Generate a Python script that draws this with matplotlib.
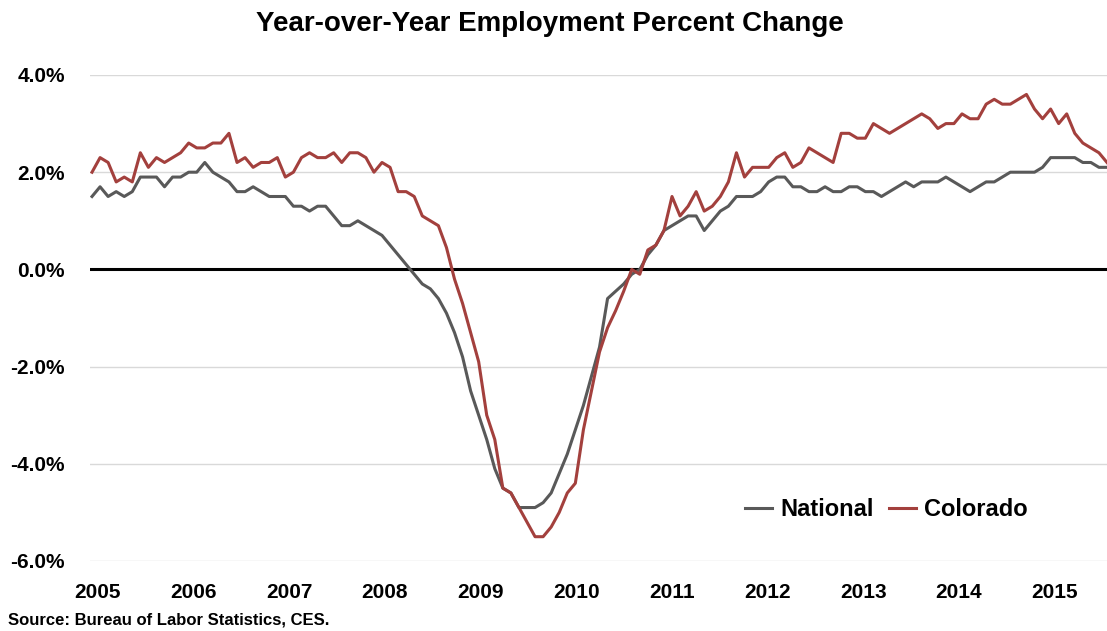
import matplotlib.pyplot as plt
import numpy as np

# Monthly year-over-year % change, Jan 2005 - Jul 2015
national = [
    1.5, 1.7, 1.5, 1.6, 1.5, 1.6, 1.9, 1.9, 1.9, 1.7, 1.9, 1.9,
    2.0, 2.0, 2.2, 2.0, 1.9, 1.8, 1.6, 1.6, 1.7, 1.6, 1.5, 1.5,
    1.5, 1.3, 1.3, 1.2, 1.3, 1.3, 1.1, 0.9, 0.9, 1.0, 0.9, 0.8,
    0.7, 0.5, 0.3, 0.1, -0.1, -0.3, -0.4, -0.6, -0.9, -1.3, -1.8, -2.5,
    -3.0, -3.5, -4.1, -4.5, -4.6, -4.9, -4.9, -4.9, -4.8, -4.6, -4.2, -3.8,
    -3.3, -2.8, -2.2, -1.6, -0.6, -0.45, -0.3, -0.1, 0.0, 0.3, 0.5, 0.8,
    0.9, 1.0, 1.1, 1.1, 0.8, 1.0, 1.2, 1.3, 1.5, 1.5, 1.5, 1.6,
    1.8, 1.9, 1.9, 1.7, 1.7, 1.6, 1.6, 1.7, 1.6, 1.6, 1.7, 1.7,
    1.6, 1.6, 1.5, 1.6, 1.7, 1.8, 1.7, 1.8, 1.8, 1.8, 1.9, 1.8,
    1.7, 1.6, 1.7, 1.8, 1.8, 1.9, 2.0, 2.0, 2.0, 2.0, 2.1, 2.3,
    2.3, 2.3, 2.3, 2.2, 2.2, 2.1, 2.1,
]
colorado = [
    2.0, 2.3, 2.2, 1.8, 1.9, 1.8, 2.4, 2.1, 2.3, 2.2, 2.3, 2.4,
    2.6, 2.5, 2.5, 2.6, 2.6, 2.8, 2.2, 2.3, 2.1, 2.2, 2.2, 2.3,
    1.9, 2.0, 2.3, 2.4, 2.3, 2.3, 2.4, 2.2, 2.4, 2.4, 2.3, 2.0,
    2.2, 2.1, 1.6, 1.6, 1.5, 1.1, 1.0, 0.9, 0.45, -0.2, -0.7, -1.3,
    -1.9, -3.0, -3.5, -4.5, -4.6, -4.9, -5.2, -5.5, -5.5, -5.3, -5.0, -4.6,
    -4.4, -3.3, -2.5, -1.7, -1.2, -0.85, -0.45, 0.0, -0.1, 0.4, 0.5, 0.8,
    1.5, 1.1, 1.3, 1.6, 1.2, 1.3, 1.5, 1.8, 2.4, 1.9, 2.1, 2.1,
    2.1, 2.3, 2.4, 2.1, 2.2, 2.5, 2.4, 2.3, 2.2, 2.8, 2.8, 2.7,
    2.7, 3.0, 2.9, 2.8, 2.9, 3.0, 3.1, 3.2, 3.1, 2.9, 3.0, 3.0,
    3.2, 3.1, 3.1, 3.4, 3.5, 3.4, 3.4, 3.5, 3.6, 3.3, 3.1, 3.3,
    3.0, 3.2, 2.8, 2.6, 2.5, 2.4, 2.2,
]
years = [str(y) for y in range(2005, 2016)]
yticks = [-6, -4, -2, 0, 2, 4]

months = np.arange(len(national))

fig = plt.figure(figsize=(11.07, 6.31), dpi=100)
ax = fig.add_axes([90 / 1107, 1 - 561 / 631, 1 - 90 / 1107, (561 - 75) / 631])

for v in yticks:
    if v == 0:
        ax.axhline(v, color='black', lw=2.2, zorder=1)
    else:
        ax.axhline(v, color='#d9d9d9', lw=1, zorder=1)

ax.plot(months, national, color='#595959', lw=2.2, label='National', zorder=3)
ax.plot(months, colorado, color='#a3403d', lw=2.2, label='Colorado', zorder=3)

ax.set_xlim(-0.25, len(national) - 1)
ax.set_ylim(-6, 4)
ax.set_yticks(yticks)
ax.set_yticklabels([f'{v:.1f}%' for v in yticks])
ax.set_xticks(0.7 + 11.88 * np.arange(len(years)))
ax.set_xticklabels(years)
ax.tick_params(length=0)
ax.tick_params(axis='y', pad=18)
ax.tick_params(axis='x', pad=16)
for lab in ax.get_xticklabels() + ax.get_yticklabels():
    lab.set_family('Liberation Sans')
    lab.set_fontweight('bold')
    lab.set_fontsize(15)
for s in ax.spines.values():
    s.set_visible(False)

leg = ax.legend(loc='center', bbox_to_anchor=(0.783, 0.105), ncol=2, frameon=False,
                borderpad=0, handlelength=1.15, handletextpad=0.35, columnspacing=0.65,
                prop={'family': 'Liberation Sans', 'weight': 'bold', 'size': 17})

fig.text(0.497, 1 - 24 / 631, 'Year-over-Year Employment Percent Change', ha='center', va='center',
         family='Liberation Sans', fontweight='bold', fontsize=20)
fig.text(8 / 1107, 1 - 620 / 631, 'Source: Bureau of Labor Statistics, CES.', ha='left', va='center',
         family='Liberation Sans', fontweight='bold', fontsize=12)

fig.savefig('out.png', dpi=100)
